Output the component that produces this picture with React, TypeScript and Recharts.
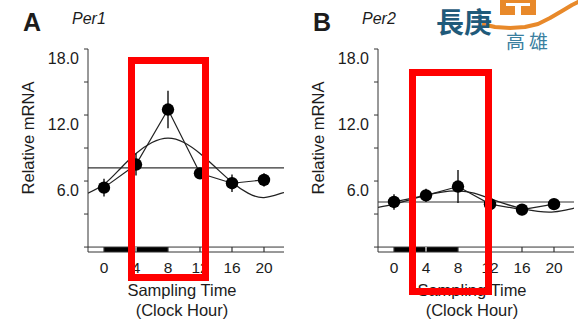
import { LineChart, Line, XAxis, YAxis, ReferenceLine, ReferenceArea, ErrorBar } from "recharts";

// sampling times (clock hour)
const hours = [0, 4, 8, 12, 16, 20];

// Per1 mean +- error
const per1Mean = [5.4, 7.5, 12.5, 6.7, 5.8, 6.1];
const per1Err = [0.8, 1.0, 1.7, 0.4, 0.8, 0.6];
const per1Mesor = 7.2;

// Per2 mean +- error
const per2Mean = [4.1, 4.7, 5.5, 3.9, 3.4, 3.9];
const per2Err = [0.7, 0.6, 1.5, 0.6, 0.5, 0.5];
const per2Mesor = 4.1;

// fitted cosine curves
const fitHours = [-2, 0, 2, 4, 6, 8, 10, 12, 14, 16, 18, 20, 22, 22.5];
const per1Fit = [4.9, 5.7, 7.1, 8.5, 9.5, 9.9, 9.5, 8.5, 7.2, 5.9, 4.9, 4.5, 4.85, 4.95];
const per2Fit = [3.6, 3.9, 4.3, 4.7, 5.0, 5.1, 4.9, 4.4, 3.9, 3.5, 3.25, 3.2, 3.45, 3.55];

const yTicks = [0, 1.5, 3, 4.5, 6, 7.5, 9, 10.5, 12, 13.5, 15, 16.5, 18];
const yLabels = [6, 12, 18];
const darkPeriod = [0, 8];

const FONT = "'Liberation Sans', Arial, sans-serif";
const INK = "#1c1c1c";
const STRIP = -0.45;

function YTick({ x, y, payload }: any) {
    const v = payload.value;
    if (!yLabels.includes(v)) return null;
    return (
        <text x={x - 3} y={y + 15} textAnchor="end" fontFamily={FONT} fontSize={16} fill={INK}>
            {v.toFixed(1)}
        </text>
    );
}

function XTick({ x, y, payload }: any) {
    return (
        <text x={x} y={y + 21} textAnchor="middle" fontFamily={FONT} fontSize={15.5} fill={INK}>
            {payload.value}
        </text>
    );
}

function XLabel({ viewBox }: any) {
    const cx = viewBox.x + viewBox.width / 2 - 4;
    return (
        <g fontFamily={FONT} fontSize={16.5} fill={INK} textAnchor="middle">
            <text x={cx} y={296}>Sampling Time</text>
            <text x={cx} y={316}>(Clock Hour)</text>
        </g>
    );
}

function YLabel() {
    return (
        <text x={0} y={0} transform="translate(34, 138) rotate(-90)" textAnchor="middle"
            fontFamily={FONT} fontSize={16.5} fill={INK}>
            Relative mRNA
        </text>
    );
}

interface PanelProps {
    left: number;
    letter: string;
    gene: string;
    mean: number[];
    err: number[];
    mesor: number;
    fit: number[];
}

function Panel({ left, letter, gene, mean, err, mesor, fit }: PanelProps) {
    const points = hours.map((h, i) => ({ h, v: mean[i], e: err[i] }));
    const curve = fitHours.map((h, i) => ({ h, v: fit[i] }));

    return (
        <div style={{ position: "absolute", left, top: 0 }}>
            <div style={{ position: "absolute", left: 23, top: 8, fontFamily: FONT, fontWeight: "bold", fontSize: 25, color: INK }}>
                {letter}
            </div>
            <div style={{ position: "absolute", left: 72, top: 10, fontFamily: FONT, fontStyle: "italic", fontSize: 16, color: INK }}>
                {gene}
            </div>
            <LineChart width={289} height={325} margin={{ top: 49, right: 5, bottom: 0, left: 0 }}>
                <XAxis
                    dataKey="h"
                    type="number"
                    domain={[-2, 22.5]}
                    ticks={hours}
                    allowDataOverflow
                    height={73}
                    tickLine={false}
                    tickSize={0}
                    tickMargin={0}
                    tick={<XTick />}
                    stroke="#333"
                    label={<XLabel />}
                />
                <YAxis
                    type="number"
                    domain={[STRIP, 18]}
                    ticks={yTicks}
                    allowDataOverflow
                    width={88}
                    tickSize={4}
                    tick={<YTick />}
                    stroke="#333"
                    label={<YLabel />}
                />
                <ReferenceLine y={0} stroke="#333" />
                <ReferenceArea x1={darkPeriod[0]} x2={darkPeriod[1]} y1={STRIP} y2={0} fill="#000" fillOpacity={1} stroke="none" />
                {hours.map((t) => (
                    <ReferenceLine
                        key={t}
                        segment={[{ x: t, y: STRIP }, { x: t, y: 0 }]}
                        stroke={t > darkPeriod[0] && t < darkPeriod[1] ? "#fff" : "#333"}
                        strokeWidth={1.2}
                    />
                ))}
                <ReferenceLine y={mesor} stroke="#333" strokeWidth={1.1} />
                <Line
                    data={curve}
                    dataKey="v"
                    type="natural"
                    stroke="#222"
                    strokeWidth={1.3}
                    dot={false}
                    isAnimationActive={false}
                />
                <Line
                    data={points}
                    dataKey="v"
                    type="linear"
                    stroke="#222"
                    strokeWidth={1.2}
                    dot={{ r: 6.2, fill: "#000", stroke: "#000", strokeWidth: 0 }}
                    isAnimationActive={false}
                >
                    <ErrorBar dataKey="e" direction="y" width={0} stroke="#111" strokeWidth={1.4} />
                </Line>
            </LineChart>
        </div>
    );
}

function Logo() {
    const orange = "#e8892a";
    return (
        <svg width={160} height={60} style={{ position: "absolute", left: 420, top: 0, zIndex: 2, overflow: "visible" }}>
            <polyline
                points="62,24 75,27 90,28 105,27 118,24 130,18 142,11 152,5 160,1"
                fill="none"
                stroke={orange}
                strokeWidth={4}
                strokeLinejoin="round"
            />
            <rect x={80} y={0} width={36} height={15} fill={orange} />
            <rect x={86} y={3} width={24} height={3} fill="#fff" />
            <rect x={95} y={3} width={6} height={12} fill="#fff" />
            <text x={16} y={33} fontFamily="'Noto Sans CJK TC', sans-serif" fontWeight="bold" fontSize={28} fill="#1f5a7a">
                長庚
            </text>
            <text x={86} y={49} fontFamily="'Noto Sans CJK TC', sans-serif" fontSize={19} letterSpacing={4} fill="#3a7f9f">
                高雄
            </text>
        </svg>
    );
}

export default function App() {
    return (
        <div style={{ position: "absolute", left: 0, top: 0, width: 578, height: 325, background: "#fff", overflow: "hidden" }}>
            <Panel left={0} letter="A" gene="Per1" mean={per1Mean} err={per1Err} mesor={per1Mesor} fit={per1Fit} />
            <Panel left={290} letter="B" gene="Per2" mean={per2Mean} err={per2Err} mesor={per2Mesor} fit={per2Fit} />
            <Logo />
            <div style={{ position: "absolute", left: 128, top: 57, width: 81, height: 224, border: "7px solid #f00", boxSizing: "border-box", zIndex: 3 }} />
            <div style={{ position: "absolute", left: 409, top: 69, width: 83, height: 226, border: "7px solid #f00", boxSizing: "border-box", zIndex: 3 }} />
        </div>
    );
}
